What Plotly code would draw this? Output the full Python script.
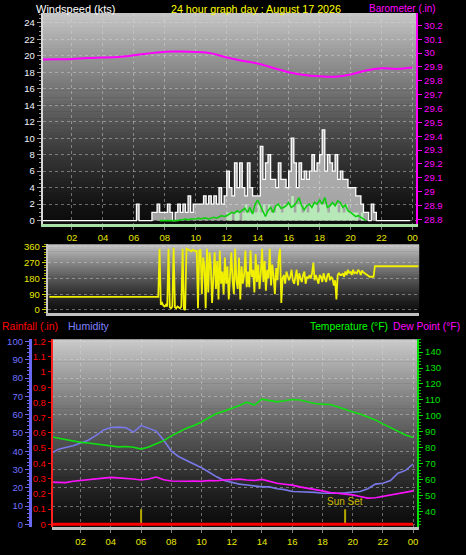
import plotly.graph_objects as go

W, H = 466, 555
FONT = "Liberation Sans, Arial, sans-serif"

# ---------------- data ----------------
hour_ticks = [2, 4, 6, 8, 10, 12, 14, 16, 18, 20, 22, 24]
hour_labels = ["02", "04", "06", "08", "10", "12", "14", "16", "18", "20", "22", "00"]

# wind, 10-minute bins (144 values, starting 00:00)
wind_gust = (
    [0] * 36
    + [0, 2, 0, 0, 0, 0]          # 06
    + [0, 1, 1, 2, 1, 1]          # 07
    + [1, 2, 1, 0, 1, 2]          # 08
    + [1, 2, 1, 3, 1, 2]          # 09
    + [2, 2, 2, 3, 2, 3]          # 10
    + [2, 3, 2, 4, 2, 3]          # 11
    + [6, 4, 3, 7, 4, 7]          # 12
    + [4, 3, 7, 4, 3, 3]          # 13
    + [3, 9, 5, 7, 8, 5]          # 14
    + [5, 4, 7, 5, 5, 4]          # 15
    + [6, 10, 7, 4, 7, 5]         # 16
    + [6, 5, 6, 8, 6, 7]          # 17
    + [8, 11, 6, 8, 7, 6]         # 18
    + [8, 5, 6, 5, 5, 4]          # 19
    + [4, 4, 3, 3, 2, 1]          # 20
    + [1, 0, 2, 1, 0, 0]          # 21
    + [0] * 12
)
wind_speed = (
    [0] * 72
    + [1, 1, 0, 1, 1, 0]          # 12
    + [1, 2, 1, 1, 1, 1]          # 13
    + [2, 1, 2, 1, 2, 1]          # 14
    + [1, 2, 2, 1, 2, 2]          # 15
    + [2, 3, 1, 2, 2, 1]          # 16
    + [2, 1, 2, 2, 2, 1]          # 17
    + [2, 2, 2, 1, 2, 2]          # 18
    + [2, 1, 2, 1, 2, 1]          # 19
    + [1, 1, 1, 0, 1, 0]          # 20
    + [0] * 18
)
wind_avg = (
    [None] * 42
    + [None, None, None, None, 0, 0]                 # 07
    + [0, 0, 0, 0, 0, 0]                             # 08
    + [0.1, 0.1, 0.2, 0.1, 0.2, 0.2]                 # 09
    + [0.2, 0.3, 0.2, 0.3, 0.3, 0.2]                 # 10
    + [0.3, 0.4, 0.3, 0.5, 0.6, 0.5]                 # 11
    + [0.6, 0.8, 1.0, 0.9, 1.2, 1.0]                 # 12
    + [1.2, 1.5, 1.0, 1.6, 0.8, 2.0]                 # 13
    + [2.5, 1.8, 1.0, 0.5, 1.2, 1.6]                 # 14
    + [1.0, 1.8, 2.0, 1.5, 1.6, 1.8]                 # 15
    + [2.2, 1.6, 1.8, 2.2, 2.8, 1.8]                 # 16
    + [1.3, 1.8, 2.0, 1.6, 2.2, 2.0]                 # 17
    + [2.5, 2.0, 2.8, 1.6, 1.8, 2.2]                 # 18
    + [1.8, 2.4, 2.2, 1.6, 1.9, 1.2]                 # 19
    + [1.0, 0.8, 0.5, 0.6, 0.4, 0.2]                 # 20
    + [0, None, None, None, None, None]              # 21
    + [None] * 12
)
wind_hours = [i / 6 for i in range(144)]

# wind direction, 5-minute bins (289 values, 00:00 .. 24:00)
wind_dir = (
    [75] * 84
    + [75, 75, 350, 30, 40, 25, 20, 30, 20, 350, 15, 10]                  # 07
    + [20, 355, 15, 10, 20, 15, 10, 20, 350, 5, 0, 350]                   # 08
    + [345, 340, 340, 335, 345, 340, 335, 340, 10, 340, 345, 90]          # 09
    + [300, 250, 10, 350, 100, 330, 250, 40, 200, 330, 120, 280]          # 10
    + [60, 340, 150, 220, 90, 300, 150, 250, 60, 200, 330, 170]           # 11
    + [90, 350, 170, 120, 300, 60, 250, 150, 200, 340, 130, 220]          # 12
    + [130, 340, 190, 230, 100, 320, 160, 260, 120, 210, 350, 160]        # 13
    + [280, 110, 230, 180, 350, 140, 260, 190, 90, 240, 170, 300]         # 14
    + [350, 40, 180, 200, 150, 220, 200, 170, 190, 230, 170, 150]         # 15
    + [190, 230, 140, 210, 180, 160, 200, 220, 150, 190, 180, 200]        # 16
    + [180, 210, 270, 170, 200, 180, 150, 200, 190, 160, 210, 180]        # 17
    + [160, 200, 210, 170, 190, 180, 140, 170, 60, 200, 210, 200]         # 18
    + [200, 210, 190, 220, 200, 230, 210, 220, 200, 230, 210, 215]        # 19
    + [210, 230, 220, 200, 225, 215, 210, 200, 195, 190, 190, 190]        # 20
    + [190, 190] + [250] * 10                                             # 21
    + [250] * 25
)
dir_hours = [i / 12 for i in range(289)]

# barometer, hourly
baro_hours = list(range(25))
barometer = [29.953, 29.955, 29.958, 29.965, 29.968, 29.972, 29.984, 29.998, 30.010,
             30.011, 30.008, 29.998, 29.968, 29.945, 29.925, 29.893, 29.862, 29.842,
             29.833, 29.830, 29.846, 29.875, 29.890, 29.886, 29.896]

# half-hourly temperature / humidity / dew point
half_hours = [i / 2 for i in range(49)]
temperature = [87.0, 86.0, 85.2, 84.3, 83.4, 83.0, 82.3, 81.8, 81.0, 80.6, 80.8, 80.4,
               79.2, 80.5, 82.5, 84.5, 87.5, 90.0, 92.2, 94.0, 96.2, 99.0, 101.5, 103.0,
               104.6, 106.5, 108.6, 106.8, 110.5, 109.5, 108.8, 109.5, 110.3, 110.0, 109.0,
               107.8, 107.4, 107.2, 105.8, 104.0, 102.5, 101.2, 99.5, 97.5, 95.0, 92.5,
               90.0, 88.0, 86.5]
humidity = [38.5, 41, 42, 43, 44.5, 46, 48.5, 51.5, 53, 53.2, 52.8, 50.5, 54, 52.5, 51,
            46, 40, 37, 35, 33, 31, 28.5, 26, 24, 23, 22, 21.5, 21, 20.5, 20.5, 19.5, 19,
            18, 17.8, 17.8, 17.5, 17, 16.8, 17, 17.2, 17.5, 18, 19.5, 22, 22.5, 24, 28,
            29.5, 33]
dew_point = [58.5, 58.4, 58.2, 59, 59.4, 60, 60.5, 61, 61.5, 61.2, 61, 60.5, 59.8, 60.5,
             61.7, 60, 59.2, 59, 59, 59.2, 59, 59.5, 59.4, 59.8, 60.0, 60.4, 59.8, 59.5,
             60.2, 59, 57.8, 57.2, 56.6, 55.5, 54.8, 54, 53, 52, 51.5, 50.8, 50.5, 49.5,
             48.5, 48.7, 49.5, 50.5, 51.2, 52, 53]
rainfall = [0] * 49

sun_times = [6.0, 19.5]
sun_labels = ["", "Sun Set"]

# ---------------- helpers ----------------
def px_x(x):
    return x / W


def px_y(y):
    return 1 - y / H


def gradient(x0, x1, y_top, y_bot, top, bot, n=60, gamma=1.3):
    shapes = []
    for i in range(n):
        t = (i + 0.5) / n
        f = (1 - t) ** gamma
        c = [int(bot[k] + (top[k] - bot[k]) * f) for k in range(3)]
        ya = y_top + (y_bot - y_top) * i / n
        yb = y_top + (y_bot - y_top) * (i + 1) / n + 0.6
        shapes.append(dict(type="rect", xref="paper", yref="paper",
                           x0=px_x(x0), x1=px_x(x1), y0=px_y(yb), y1=px_y(ya),
                           fillcolor="rgb(%d,%d,%d)" % tuple(c), line=dict(width=0),
                           layer="below"))
    return shapes


fig = go.Figure()

# ---------- top panel ----------
fig.add_trace(go.Scatter(x=wind_hours, y=wind_gust, xaxis="x", yaxis="y", mode="lines",
                         line=dict(color="rgba(255,255,255,1)", width=1.3, shape="hv"),
                         fill="tozeroy", fillcolor="rgba(235,235,235,0.68)",
                         hoverinfo="skip", showlegend=False))
fig.add_trace(go.Scatter(x=wind_hours, y=wind_speed, xaxis="x", yaxis="y", mode="lines",
                         line=dict(color="rgba(190,240,190,0.0)", width=0, shape="hv"),
                         fill="tozeroy", fillcolor="rgba(185,240,185,0.9)",
                         hoverinfo="skip", showlegend=False))
fig.add_trace(go.Scatter(x=wind_hours, y=wind_avg, xaxis="x", yaxis="y", mode="lines",
                         line=dict(color="#10d010", width=1.6),
                         hoverinfo="skip", showlegend=False))
fig.add_trace(go.Scatter(x=baro_hours, y=barometer, xaxis="x", yaxis="y2", mode="lines",
                         line=dict(color="#ff00ff", width=2, shape="spline"),
                         hoverinfo="skip", showlegend=False))

# ---------- middle panel ----------
fig.add_trace(go.Scatter(x=dir_hours, y=wind_dir, xaxis="x2", yaxis="y3", mode="lines",
                         line=dict(color="#f0f000", width=1.8),
                         hoverinfo="skip", showlegend=False))

# ---------- bottom panel ----------
fig.add_trace(go.Scatter(x=half_hours, y=rainfall, xaxis="x3", yaxis="y5", mode="lines",
                         line=dict(color="#ff0000", width=3),
                         hoverinfo="skip", showlegend=False))
sx, sy = [], []
for t in sun_times:
    sx += [t, t, None]
    sy += [0, 8.3, None]
fig.add_trace(go.Scatter(x=sx, y=sy, xaxis="x3", yaxis="y4", mode="lines",
                         line=dict(color="#b4a800", width=2),
                         hoverinfo="skip", showlegend=False))
fig.add_trace(go.Scatter(x=half_hours, y=humidity, xaxis="x3", yaxis="y4", mode="lines",
                         line=dict(color="#7878e8", width=1.6),
                         hoverinfo="skip", showlegend=False))
fig.add_trace(go.Scatter(x=half_hours, y=dew_point, xaxis="x3", yaxis="y6", mode="lines",
                         line=dict(color="#ff10ff", width=1.6),
                         hoverinfo="skip", showlegend=False))
fig.add_trace(go.Scatter(x=half_hours, y=temperature, xaxis="x3", yaxis="y6", mode="lines",
                         line=dict(color="#10e010", width=1.6),
                         hoverinfo="skip", showlegend=False))

grid = "rgba(215,215,215,0.45)"
tickfont_small = dict(family=FONT, size=9.5)

shapes = []
shapes += gradient(43, 418, 10, 223, (200, 200, 200), (12, 12, 12))
shapes += gradient(48, 421, 244, 313, (196, 196, 196), (14, 14, 14), n=30)
shapes += gradient(52, 419, 340, 530, (204, 204, 204), (12, 12, 12))

annotations = [
    dict(text="Windspeed (kts)", x=px_x(34), y=px_y(6), xanchor="left", yanchor="middle",
         font=dict(color="#ffffff", size=11, family=FONT)),
    dict(text="24 hour graph day : August 17 2026", x=px_x(257), y=px_y(6),
         xanchor="center", yanchor="middle", font=dict(color="#ffff00", size=10.7, family=FONT)),
    dict(text="Barometer (.in)", x=px_x(440), y=px_y(6), xanchor="right", yanchor="middle",
         font=dict(color="#ff00ff", size=10, family=FONT)),
    dict(text="Rainfall (.in)", x=px_x(0), y=px_y(327), xanchor="left", yanchor="middle",
         font=dict(color="#ff0000", size=10.5, family=FONT)),
    dict(text="Humidity", x=px_x(66), y=px_y(327), xanchor="left", yanchor="middle",
         font=dict(color="#8080ff", size=10.5, family=FONT)),
    dict(text="Temperature (°F)", x=px_x(392), y=px_y(327), xanchor="right", yanchor="middle",
         font=dict(color="#00ff00", size=10.3, family=FONT)),
    dict(text="Dew Point (°F)", x=px_x(464), y=px_y(327), xanchor="right", yanchor="middle",
         font=dict(color="#ff00ff", size=10.3, family=FONT)),
]
for t, lab in zip(sun_times, sun_labels):
    if lab:
        annotations.append(dict(text=lab, x=t, y=8.3, xref="x3", yref="y4",
                                xanchor="center", yanchor="bottom", showarrow=False,
                                font=dict(color="#c8b800", size=10, family=FONT)))
for a in annotations:
    a.setdefault("xref", "paper")
    a.setdefault("yref", "paper")
    a["showarrow"] = False

fig.update_layout(
    width=W, height=H, margin=dict(l=0, r=0, t=0, b=0),
    paper_bgcolor="#000000", plot_bgcolor="rgba(0,0,0,0)",
    showlegend=False, shapes=shapes, annotations=annotations,
    font=dict(family=FONT), hovermode=False,
    xaxis=dict(domain=[px_x(43), px_x(418)], anchor="y", range=[0.116, 24.24],
               tickmode="array", tickvals=hour_ticks, ticktext=hour_labels,
               tickfont=dict(color="#e8e800", **tickfont_small),
               showline=True, linecolor="#a8e0a8", linewidth=3,
               ticks="outside", ticklen=3, tickcolor="#808080",
               showgrid=True, gridcolor=grid, griddash="dot", zeroline=False),
    yaxis=dict(domain=[px_y(223), px_y(10)], range=[-0.36, 25.2],
               tick0=0, dtick=2, tickfont=dict(color="#f0f4ff", **tickfont_small),
               ticks="outside", ticklen=4, tickcolor="#a0a0a0",
               minor=dict(ticks="outside", ticklen=2, tickcolor="#909090", dtick=0.5,
                          showgrid=False),
               showline=True, linecolor="#d8d8d8", linewidth=2,
               showgrid=True, gridcolor=grid, griddash="dot", zeroline=False),
    yaxis2=dict(overlaying="y", side="right", anchor="x", range=[28.77, 30.29],
                tick0=28.8, dtick=0.1, tickfont=dict(color="#ff00ff", **tickfont_small),
                ticks="outside", ticklen=4, tickcolor="#ff00ff",
                showline=True, linecolor="#ff00ff", linewidth=2,
                showgrid=False, zeroline=False),
    xaxis2=dict(domain=[px_x(48), px_x(421)], anchor="y3", range=[-0.1, 24.05],
                showticklabels=False, ticks="", showgrid=False, zeroline=False,
                showline=True, linecolor="#c0c0c0", linewidth=3),
    yaxis3=dict(domain=[px_y(313), px_y(244)], anchor="x2", range=[-15, 375],
                tick0=0, dtick=90, tickfont=dict(color="#e8e800", **tickfont_small),
                ticks="outside", ticklen=4, tickcolor="#d0d000",
                minor=dict(ticks="outside", ticklen=2, tickcolor="#b0b000", dtick=15,
                           showgrid=False),
                showline=True, linecolor="#c8c8c8", linewidth=2,
                showgrid=True, gridcolor=grid, griddash="dot", zeroline=False),
    yaxis7=dict(overlaying="y3", side="right", anchor="x2", range=[-15, 375],
                tickmode="array", tickvals=[360, 270, 180, 90, 0],
                ticktext=["N", "W", "S", "E", "N"], ticks="",
                ticklabelstandoff=12,
                tickfont=dict(color="#ffff00", size=15, family=FONT),
                showline=False, showgrid=False, zeroline=False),
    xaxis3=dict(domain=[px_x(52), px_x(419)], anchor="y4", range=[0.09, 24.27],
                tickmode="array", tickvals=hour_ticks, ticktext=hour_labels,
                tickfont=dict(color="#e8e800", **tickfont_small),
                showline=True, linecolor="#c0c0c0", linewidth=3,
                ticks="outside", ticklen=3, tickcolor="#808080",
                showgrid=True, gridcolor=grid, griddash="dot", zeroline=False),
    yaxis4=dict(domain=[px_y(530), px_y(340)], anchor="free", position=px_x(30),
                side="left", range=[-1.6, 101.2], tick0=0, dtick=10,
                tickfont=dict(color="#7070ff", **tickfont_small),
                ticks="outside", ticklen=4, tickcolor="#6868f0",
                minor=dict(ticks="outside", ticklen=2, tickcolor="#6868f0", dtick=2,
                           showgrid=False),
                showline=True, linecolor="#6868f0", linewidth=3,
                showgrid=True, gridcolor=grid, griddash="dot", zeroline=False),
    yaxis5=dict(overlaying="y4", anchor="free", position=px_x(52), side="left",
                range=[-0.0192, 1.2144], tick0=0, dtick=0.1,
                tickfont=dict(color="#ff0000", **tickfont_small),
                ticks="outside", ticklen=3, tickcolor="#ff0000",
                showline=True, linecolor="#ff2020", linewidth=2,
                showgrid=False, zeroline=False),
    yaxis6=dict(overlaying="y4", anchor="x3", side="right", range=[30.2, 148],
                tick0=40, dtick=10, tickfont=dict(color="#00e000", **tickfont_small),
                ticks="outside", ticklen=4, tickcolor="#00e000",
                minor=dict(ticks="outside", ticklen=2, tickcolor="#00c000", dtick=2,
                           showgrid=False),
                showline=True, linecolor="#00e000", linewidth=2,
                showgrid=False, zeroline=False),
)

fig.write_html("out.html",
               config={"displayModeBar": False, "staticPlot": True},
               post_script="document.body.style.margin='0';document.body.style.padding='0';"
                           "document.body.style.background='#000';")
